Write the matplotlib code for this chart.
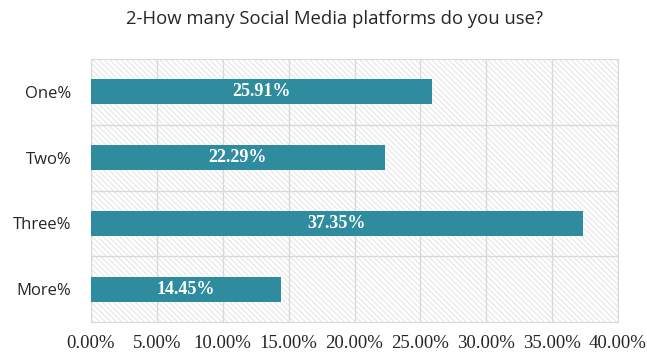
import matplotlib.pyplot as plt
from matplotlib.patches import Rectangle

# data
categories = ['One%', 'Two%', 'Three%', 'More%']
values = [25.91, 22.29, 37.35, 14.45]
xticks = [0, 5, 10, 15, 20, 25, 30, 35, 40]

bar_color = '#2f8b9e'
grid_color = '#d9d9d9'
text_color = '#262626'

plt.rcParams['hatch.linewidth'] = 0.6

fig = plt.figure(figsize=(6.47, 3.55), dpi=100)
ax = fig.add_axes([91 / 647, 1 - 322 / 355, 527 / 647, 263 / 355])

# faint hatched background for the plot area
ax.add_patch(Rectangle((0, 0), 1, 1, transform=ax.transAxes, facecolor='white',
                       edgecolor='#dedede', hatch='\\\\\\\\\\\\', linewidth=0, zorder=0))

y = list(range(len(categories)))
ax.barh(y, values, height=0.38, color=bar_color, zorder=3)

for yi, v in zip(y, values):
    ax.text(v / 2, yi, f'{v:.2f}%', color='white', ha='center', va='center',
            family='Liberation Serif', fontsize=13, fontweight='bold', zorder=4)

ax.set_xlim(0, 40)
ax.set_ylim(len(categories) - 0.5, -0.5)
ax.set_yticks(y)
ax.set_yticklabels(categories, family='Open Sans', fontsize=12, color=text_color)
ax.set_xticks(xticks)
ax.set_xticklabels([f'{t:.2f}%' for t in xticks], family='Liberation Serif',
                   fontsize=13.5, color=text_color)
ax.tick_params(length=0)
ax.tick_params(axis='y', pad=14)
ax.tick_params(axis='x', pad=9)

# grid: vertical at ticks, horizontal between categories
for t in xticks:
    ax.axvline(t, color=grid_color, linewidth=1, zorder=1)
for b in [0.5, 1.5, 2.5]:
    ax.axhline(b, color=grid_color, linewidth=1, zorder=1)
for s in ax.spines.values():
    s.set_color(grid_color)

fig.text(335 / 647, 1 - 19 / 355, '2-How many Social Media platforms do you use?',
         ha='center', va='center', family='Open Sans', fontsize=13.3, color=text_color)

fig.savefig('out.png', dpi=100)
